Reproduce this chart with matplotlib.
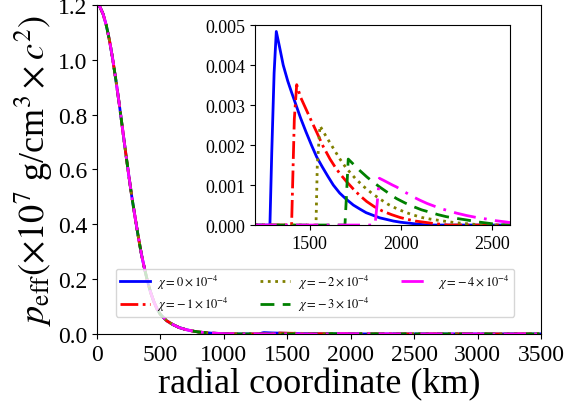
import matplotlib
matplotlib.use("Agg")
import matplotlib.pyplot as plt

plt.rcParams['font.family'] = 'serif'
plt.rcParams['font.serif'] = ['Liberation Serif', 'DejaVu Serif']
plt.rcParams['mathtext.fontset'] = 'stix'

# -- data --
# central part, common to every chi
r_core = [0, 25, 50, 75, 100, 125, 150, 175, 200, 225, 250, 275, 300, 325,
          350, 375, 400, 425, 450, 475, 500, 550, 600, 650, 700, 750, 800,
          900, 1000, 1100]
p_core = [1.2, 1.192, 1.166, 1.125, 1.07, 1.003, 0.927, 0.845, 0.758, 0.67,
          0.585, 0.503, 0.43, 0.36, 0.294, 0.24, 0.191, 0.15, 0.117, 0.091,
          0.072, 0.048, 0.034, 0.023, 0.016, 0.011, 0.007, 0.003, 0.0012, 0.0]

# outer shells, one per chi
r_chi0 = [1282, 1292, 1305, 1317, 1335, 1355, 1380, 1400, 1420, 1450, 1480,
          1510, 1539, 1570, 1600, 1630, 1665, 1700, 1740, 1776, 1810, 1850,
          1885, 1923, 1960, 2000, 2040, 2080, 2120, 2150, 3500]
p_chi0 = [0.0, 0.0018, 0.0038, 0.00484, 0.00445, 0.0040, 0.0036, 0.00333,
          0.00307, 0.00268, 0.00233, 0.0020, 0.0017, 0.00145, 0.00122, 0.001,
          0.0008, 0.00065, 0.0005, 0.0004, 0.00031, 0.00024, 0.00018, 0.00014,
          0.0001, 0.00007, 0.00005, 0.00003, 0.000012, 0.0, 0.0]

r_chi1 = [1401, 1416, 1429, 1450, 1480, 1510, 1539, 1575, 1612, 1640, 1667,
          1700, 1740, 1775, 1813, 1855, 1900, 1950, 1996, 2040, 2080, 2130,
          2178, 2220, 2260, 3500]
p_chi1 = [0.0, 0.00265, 0.00351, 0.0032, 0.0029, 0.0026, 0.00232, 0.00196,
          0.00165, 0.00145, 0.00128, 0.0011, 0.0009, 0.00074, 0.00059, 0.00046,
          0.00035, 0.00026, 0.00019, 0.00014, 0.0001, 0.00007, 0.00004,
          0.00002, 0.0, 0.0]

r_chi2 = [1535, 1542, 1557, 1590, 1630, 1665, 1700, 1750, 1795, 1840, 1880,
          1930, 1978, 2025, 2070, 2115, 2161, 2205, 2250, 2300, 2344, 2400,
          2450, 3500]
p_chi2 = [0.0, 0.00148, 0.00248, 0.00222, 0.00192, 0.00166, 0.00143, 0.00117,
          0.00097, 0.0008, 0.00067, 0.00052, 0.00041, 0.00032, 0.00025,
          0.00019, 0.00015, 0.00012, 0.00009, 0.00006, 0.00004, 0.00002, 0.0,
          0.0]

r_chi3 = [1694, 1703, 1712, 1745, 1776, 1815, 1850, 1885, 1920, 1950, 1978,
          2025, 2070, 2115, 2161, 2205, 2250, 2300, 2344, 2385, 2420, 2455,
          2490, 2520, 2540, 3500]
p_chi3 = [0.0, 0.0008, 0.00165, 0.0015, 0.00136, 0.0012, 0.00107, 0.00095,
          0.00084, 0.00074, 0.00066, 0.00055, 0.00046, 0.00038, 0.00032,
          0.00026, 0.00021, 0.00017, 0.00014, 0.00011, 0.00008, 0.00006,
          0.00004, 0.00002, 0.0, 0.0]

r_chi4 = [1859, 1870, 1883, 1905, 1930, 1955, 1978, 2010, 2040, 2075, 2106,
          2145, 2180, 2215, 2252, 2305, 2360, 2415, 2472, 2520, 2573, 2620,
          2670, 2720, 3500]
p_chi4 = [0.0, 0.0005, 0.00117, 0.00112, 0.00106, 0.001, 0.00095, 0.00086,
          0.00078, 0.00069, 0.00062, 0.00054, 0.00048, 0.00042, 0.00037,
          0.0003, 0.00024, 0.00019, 0.00015, 0.00011, 0.00008, 0.00005,
          0.00003, 0.0, 0.0]

labels = [r'$\chi=0\times10^{-4}$', r'$\chi=-\,1\times10^{-4}$',
          r'$\chi=-\,2\times10^{-4}$', r'$\chi=-\,3\times10^{-4}$',
          r'$\chi=-\,4\times10^{-4}$']

shells = [(r_chi0, p_chi0), (r_chi1, p_chi1), (r_chi2, p_chi2),
          (r_chi3, p_chi3), (r_chi4, p_chi4)]
colors = ['blue', 'red', 'olive', 'green', 'magenta']
styles = ['-', '-.', ':', (0, (5, 3)), (0, (8, 3, 1, 3))]

fig = plt.figure(figsize=(5.66, 4.14), dpi=100)
ax = fig.add_axes([0.171, 0.191, 0.785, 0.795])
ins = fig.add_axes([0.4505, 0.454, 0.4505, 0.483])

for (rs, ps), c, ls, lab in zip(shells, colors, styles, labels):
    r = r_core + rs
    p = p_core + ps
    ax.plot(r, p, color=c, ls=ls, lw=2, label=lab)
    ins.plot(r, p, color=c, ls=ls, lw=2)

ax.set_xlim(0, 3500)
ax.set_ylim(0, 1.2)
ax.set_xticks(range(0, 3501, 500))
ax.set_yticks([0.0, 0.2, 0.4, 0.6, 0.8, 1.0, 1.2])
ax.set_yticklabels(['0.0', '0.2', '0.4', '0.6', '0.8', '1.0', '1.2'])
ax.tick_params(labelsize=17)
ax.set_xlabel('radial coordinate (km)', fontsize=26, labelpad=2)
ax.set_ylabel(r'$p_{\rm eff}(\times10^7$ g/cm$^3\times c^2)$', fontsize=26,
              labelpad=2)

leg = ax.legend(ncol=3, fontsize=9, loc='lower left',
                bbox_to_anchor=(0.043, 0.052), borderaxespad=0,
                handlelength=2.4, handletextpad=0.6, columnspacing=2.5,
                borderpad=0.3, labelspacing=0.35)

ins.set_xlim(1200, 2600)
ins.set_ylim(0, 0.005)
ins.set_xticks([1500, 2000, 2500])
ins.set_yticks([0.0, 0.001, 0.002, 0.003, 0.004, 0.005])
ins.set_yticklabels(['0.000', '0.001', '0.002', '0.003', '0.004', '0.005'])
ins.tick_params(labelsize=13)

fig.savefig('out.png', dpi=100)
